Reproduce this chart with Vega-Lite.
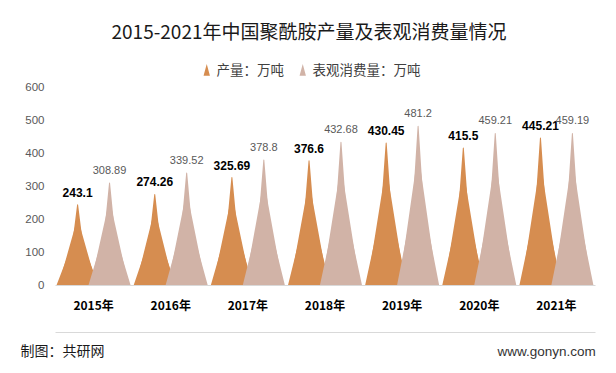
{
  "$schema": "https://vega.github.io/schema/vega-lite/v6.json",
  "width": 540,
  "height": 198,
  "autosize": {"type": "none"},
  "padding": {"left": 55, "top": 87, "right": 21, "bottom": 88},
  "background": "white",
  "title": {
    "text": "2015-2021年中国聚酰胺产量及表观消费量情况",
    "fontSize": 19,
    "fontWeight": "normal",
    "color": "#1a1a1a",
    "font": "Noto Sans CJK SC",
    "anchor": "middle",
    "frame": "group",
    "dx": -16,
    "offset": 21
  },
  "data": {
    "values": [
      {"year": "2015年", "series": "产量", "value": 243.1},
      {"year": "2016年", "series": "产量", "value": 274.26},
      {"year": "2017年", "series": "产量", "value": 325.69},
      {"year": "2018年", "series": "产量", "value": 376.6},
      {"year": "2019年", "series": "产量", "value": 430.45},
      {"year": "2020年", "series": "产量", "value": 415.5},
      {"year": "2021年", "series": "产量", "value": 445.21},
      {"year": "2015年", "series": "表观消费量", "value": 308.89},
      {"year": "2016年", "series": "表观消费量", "value": 339.52},
      {"year": "2017年", "series": "表观消费量", "value": 378.8},
      {"year": "2018年", "series": "表观消费量", "value": 432.68},
      {"year": "2019年", "series": "表观消费量", "value": 481.2},
      {"year": "2020年", "series": "表观消费量", "value": 459.21},
      {"year": "2021年", "series": "表观消费量", "value": 459.19}
    ]
  },
  "layer": [
    {
      "transform": [
        {"filter": "datum.series === '产量'"},
        {"stack": "value", "groupby": ["year", "series"], "as": ["v0", "v1"]},
        {"fold": ["v0", "v1"], "as": ["end", "y"]}
      ],
      "mark": {"type": "trail", "clip": true},
      "encoding": {
        "x": {
          "field": "year", "type": "nominal",
          "scale": {"paddingInner": 0, "paddingOuter": 0},
          "axis": {
            "labelFontSize": 12, "labelFontWeight": "bold", "labelColor": "#000000",
            "labelFont": "Noto Sans CJK SC", "ticks": false, "domainColor": "#D9D9D9",
            "labelPadding": 15, "labelAngle": 0, "grid": false,
            "title": "制图：共研网", "titleX": -35, "titleY": 66, "titleAlign": "left",
            "titleAnchor": null, "titleBaseline": "middle", "titleFontSize": 14,
            "titleFontWeight": "normal", "titleColor": "#1a1a1a", "titleFont": "Noto Sans CJK SC"
          }
        },
        "xOffset": {"field": "series", "type": "nominal", "scale": {"domain": ["产量", "表观消费量"], "paddingInner": 0, "paddingOuter": 0.708}},
        "y": {
          "field": "y", "type": "quantitative",
          "scale": {"domain": [0, 600]},
          "axis": {
            "values": [0, 100, 200, 300, 400, 500, 600],
            "labelFontSize": 11.5, "labelColor": "#595959", "labelFont": "Liberation Sans",
            "ticks": false, "domain": false, "grid": false, "labelPadding": 11,
            "title": "www.gonyn.com", "titleAngle": 0, "titleX": 442, "titleY": 264,
            "titleAlign": "left", "titleBaseline": "middle", "titleFontSize": 13.5,
            "titleFontWeight": "normal", "titleColor": "#333333", "titleFont": "Liberation Sans"
          }
        },
        "size": {"field": "end", "type": "ordinal", "scale": {"domain": ["v0", "v1"], "range": [21, 0]}, "legend": null},
        "color": {
          "field": "series", "type": "nominal",
          "scale": {"domain": ["产量", "表观消费量"], "range": ["#D68D50", "#D1B3A7"]},
          "legend": {
            "orient": "none", "legendX": 145, "legendY": -23, "direction": "horizontal",
            "title": null, "symbolType": "M-0.55,1L0,-1L0.55,1Z", "symbolSize": 64,
            "labelFontSize": 13.5, "labelColor": "#404040",
            "labelFont": "Noto Sans CJK SC", "columnPadding": 12, "labelOffset": 3, "padding": 0,
            "labelExpr": "datum.label + '：万吨'",
            "encode": {"symbols": {"update": {"fill": {"scale": "color", "field": "value"}, "stroke": {"value": "transparent"}, "opacity": {"value": 1}}}}
          }
        },
        "detail": {"field": "year"},
        "order": {"field": "end"}
      }
    },
    {
      "transform": [
        {"filter": "datum.series === '产量'"},
        {"stack": "value", "groupby": ["year", "series"], "as": ["v0", "v1"]},
        {"fold": ["v0", "v1"], "as": ["end", "y"]}
      ],
      "mark": {"type": "trail", "clip": true},
      "encoding": {
        "x": {"field": "year", "type": "nominal", "axis": null},
        "xOffset": {"field": "series", "type": "nominal"},
        "y": {"field": "y", "type": "quantitative", "scale": {"domain": [0, 735]}, "axis": null},
        "size": {"field": "end", "type": "ordinal", "scale": {"domain": ["v0", "v1"], "range": [38, 0]}, "legend": null},
        "color": {"field": "series", "type": "nominal"},
        "detail": {"field": "year"},
        "order": {"field": "end"}
      }
    },
    {
      "transform": [
        {"filter": "datum.series === '产量'"},
        {"stack": "value", "groupby": ["year", "series"], "as": ["v0", "v1"]},
        {"fold": ["v0", "v1"], "as": ["end", "y"]}
      ],
      "mark": {"type": "trail", "clip": true},
      "encoding": {
        "x": {"field": "year", "type": "nominal", "axis": null},
        "xOffset": {"field": "series", "type": "nominal"},
        "y": {"field": "y", "type": "quantitative", "scale": {"domain": [0, 900]}, "axis": null},
        "size": {"field": "end", "type": "ordinal", "scale": {"domain": ["v0", "v1"], "range": [42, 0]}, "legend": null},
        "color": {"field": "series", "type": "nominal"},
        "detail": {"field": "year"},
        "order": {"field": "end"}
      }
    },
    {
      "transform": [
        {"filter": "datum.series === '表观消费量'"},
        {"stack": "value", "groupby": ["year", "series"], "as": ["v0", "v1"]},
        {"fold": ["v0", "v1"], "as": ["end", "y"]}
      ],
      "mark": {"type": "trail", "clip": true},
      "encoding": {
        "x": {"field": "year", "type": "nominal", "axis": {"orient": "bottom", "offset": 47, "labels": false, "ticks": false, "title": null, "domainColor": "#D9D9D9", "grid": false}},
        "xOffset": {"field": "series", "type": "nominal"},
        "y": {"field": "y", "type": "quantitative", "scale": {"domain": [0, 600]}, "axis": null},
        "size": {"field": "end", "type": "ordinal", "scale": {"domain": ["v0", "v1"], "range": [21, 0]}, "legend": null},
        "color": {"field": "series", "type": "nominal"},
        "detail": {"field": "year"},
        "order": {"field": "end"}
      }
    },
    {
      "transform": [
        {"filter": "datum.series === '表观消费量'"},
        {"stack": "value", "groupby": ["year", "series"], "as": ["v0", "v1"]},
        {"fold": ["v0", "v1"], "as": ["end", "y"]}
      ],
      "mark": {"type": "trail", "clip": true},
      "encoding": {
        "x": {"field": "year", "type": "nominal", "axis": null},
        "xOffset": {"field": "series", "type": "nominal"},
        "y": {"field": "y", "type": "quantitative", "scale": {"domain": [0, 735]}, "axis": null},
        "size": {"field": "end", "type": "ordinal", "scale": {"domain": ["v0", "v1"], "range": [38, 0]}, "legend": null},
        "color": {"field": "series", "type": "nominal"},
        "detail": {"field": "year"},
        "order": {"field": "end"}
      }
    },
    {
      "transform": [
        {"filter": "datum.series === '表观消费量'"},
        {"stack": "value", "groupby": ["year", "series"], "as": ["v0", "v1"]},
        {"fold": ["v0", "v1"], "as": ["end", "y"]}
      ],
      "mark": {"type": "trail", "clip": true},
      "encoding": {
        "x": {"field": "year", "type": "nominal", "axis": null},
        "xOffset": {"field": "series", "type": "nominal"},
        "y": {"field": "y", "type": "quantitative", "scale": {"domain": [0, 900]}, "axis": null},
        "size": {"field": "end", "type": "ordinal", "scale": {"domain": ["v0", "v1"], "range": [42, 0]}, "legend": null},
        "color": {"field": "series", "type": "nominal"},
        "detail": {"field": "year"},
        "order": {"field": "end"}
      }
    },
    {
      "transform": [{"filter": "datum.series === '产量'"}],
      "mark": {"type": "text", "fontWeight": "bold", "fontSize": 12, "color": "#000000", "dy": -12, "baseline": "middle", "font": "Liberation Sans"},
      "encoding": {
        "x": {"field": "year", "type": "nominal", "axis": null},
        "xOffset": {"field": "series", "type": "nominal"},
        "y": {"field": "value", "type": "quantitative", "scale": {"domain": [0, 600]}, "axis": null},
        "text": {"field": "value", "type": "nominal"}
      }
    },
    {
      "transform": [{"filter": "datum.series === '表观消费量'"}],
      "mark": {"type": "text", "fontSize": 11, "color": "#595959", "dy": -12, "baseline": "middle", "font": "Liberation Sans"},
      "encoding": {
        "x": {"field": "year", "type": "nominal", "axis": null},
        "xOffset": {"field": "series", "type": "nominal"},
        "y": {"field": "value", "type": "quantitative", "scale": {"domain": [0, 600]}, "axis": null},
        "text": {"field": "value", "type": "nominal"}
      }
    }
  ],
  "resolve": {
    "scale": {"y": "independent", "size": "independent"},
    "axis": {"x": "independent"}
  },
  "config": {
    "view": {"stroke": null},
    "font": "Noto Sans CJK SC"
  }
}
